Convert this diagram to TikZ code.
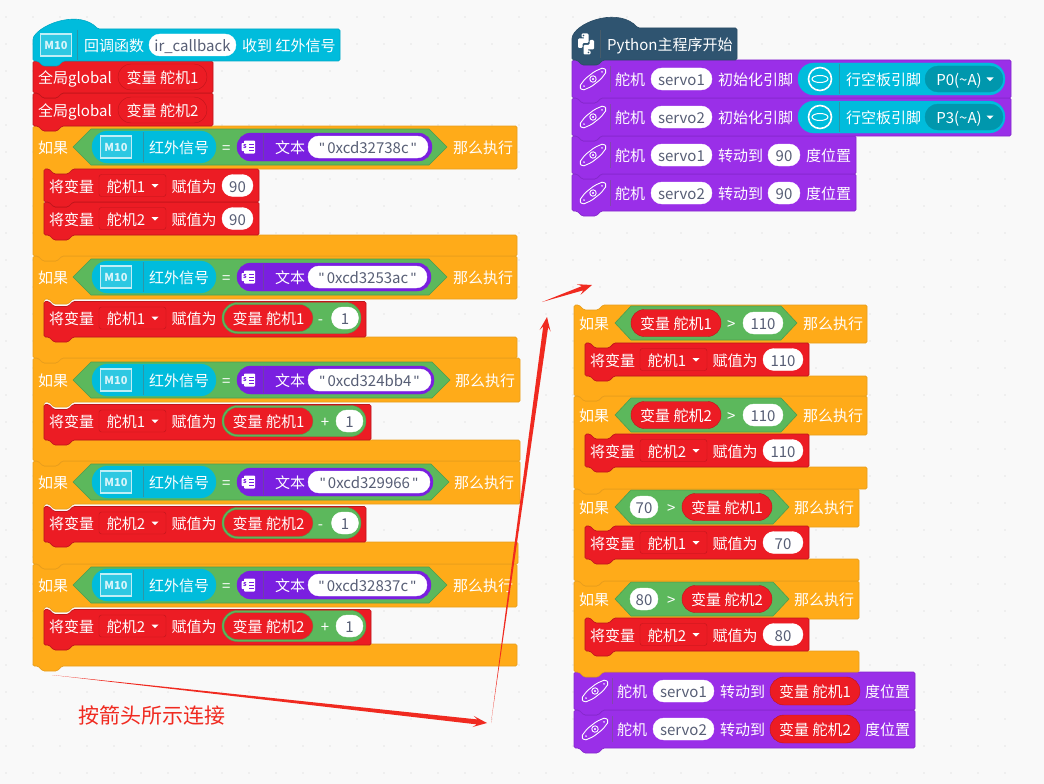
\documentclass[tikz,border=0pt]{standalone}
\usepackage{fontspec}
\setmainfont{Noto Sans CJK SC}
\newfontfamily\qf{Liberation Sans}
\usetikzlibrary{calc,shapes.geometric}
\definecolor{bgc}{HTML}{F9F9F9}
\definecolor{dotc}{HTML}{E6E6E6}
\definecolor{cy}{HTML}{00BCDC}
\definecolor{cyd}{HTML}{0097AD}
\definecolor{rd}{HTML}{EC1C24}
\definecolor{rdd}{HTML}{BE151B}
\definecolor{og}{HTML}{FFAB19}
\definecolor{ogd}{HTML}{E89E1C}
\definecolor{gr}{HTML}{5CB85C}
\definecolor{grd}{HTML}{4E9E4E}
\definecolor{pu}{HTML}{9A2FE8}
\definecolor{pud}{HTML}{8528CC}
\definecolor{pp}{HTML}{7A1FE0}
\definecolor{nv}{HTML}{2F5470}
\definecolor{gt}{HTML}{575E75}
\definecolor{ar}{HTML}{F02A20}
\newcounter{nn}
\tikzset{
  x=1pt,y=-1pt,
  tx/.style={anchor=west,inner sep=0pt,text height=13pt,text depth=0pt,font=\fontsize{15}{18}\selectfont},
  pillbox/.style={rectangle,inner sep=0pt,text height=13pt,text depth=0pt,font=\fontsize{15}{18}\selectfont},
  sep/.style={line width=0.7pt,opacity=0.45,black!60},
  icon/.style={white,line width=0.9pt},
  tail/.style={fill=ar,draw=none}
}
% text
\newcommand\TT[4][white]{\stepcounter{nn}\node[tx,text=#1] (t\thenn) at (#2,#3) {#4};}
% pill: x0 x1 cy h fill draw textcolor text
\newcommand\PL[8]{\stepcounter{nn}\pgfmathsetlengthmacro\rr{(#4)/2-0.1}%
 \node[pillbox,rounded corners=\rr,fill=#5,draw=#6,text=#7,minimum width={(#2)-(#1)},minimum height={#4}] (p\thenn) at ({((#1)+(#2))/2},#3) {#8};}
\newcommand\WP[4]{\PL{#1}{#2}{#3}{22}{white}{white}{gt}{#4}}
% dropdown in an assignment
\newcommand\DD[4]{\stepcounter{nn}\node[pillbox,rounded corners=2.5pt,fill=rd,draw=rdd,text=white,minimum width={(#2)-(#1)},minimum height=22] (d\thenn) at ({((#1)+(#2))/2},#3) {\hspace*{-13pt}#4};}
% stack block
\newcommand\BLK[6]{\draw[fill=#5,draw=#6,line width=0.7pt,rounded corners=1.5pt]
 (#1,#2) -- (#1+5,#2) -- (#1+10,#2+5) -- (#1+24,#2+5) -- (#1+29,#2) -- (#3,#2) -- (#3,#4)
 -- (#1+29,#4) -- (#1+24,#4+5) -- (#1+10,#4+5) -- (#1+5,#4) -- (#1,#4) -- cycle;}
% if block: x0 y0 x1 y1 y2 y3 x1b
\newcommand\IFB[7]{\draw[fill=og,draw=ogd,line width=0.7pt,rounded corners=1.5pt]
 (#1,#2) -- (#1+5,#2) -- (#1+10,#2+5) -- (#1+24,#2+5) -- (#1+29,#2) -- (#3,#2) -- (#3,#4)
 -- (#1+40,#4) -- (#1+35,#4+5) -- (#1+21,#4+5) -- (#1+16,#4) -- (#1+11,#4) -- (#1+11,#5)
 -- (#7,#5) -- (#7,#6) -- (#1+29,#6) -- (#1+24,#6+5) -- (#1+10,#6+5) -- (#1+5,#6) -- (#1,#6) -- cycle;}
\newcommand\HEX[3]{\draw[fill=gr,draw=grd,line width=0.6pt] (#1,#3) -- (#1+18,#3-18) -- (#2-18,#3-18) -- (#2,#3) -- (#2-18,#3+18) -- (#1+18,#3+18) -- cycle;}
\newcommand\HEXS[3]{\draw[fill=gr,draw=grd,line width=0.6pt] (#1,#3) -- (#1+16,#3-17) -- (#2-16,#3-17) -- (#2,#3) -- (#2-16,#3+17) -- (#1+16,#3+17) -- cycle;}
\newcommand\TRI[3][white]{\fill[#1] (#2-3.5,#3-1.5) -- (#2+3.5,#3-1.5) -- (#2,#3+2.2) -- cycle;}
\newcommand\MTEN[2]{\stepcounter{nn}\node[rectangle,draw=white!75!cy,line width=1.4pt,fill=white!18!cy,text=white!85!cy,inner sep=0pt,minimum width=31pt,minimum height=22pt,font=\fontsize{11}{12}\bfseries\selectfont] (m\thenn) at (#1,#2) {M10};}
% s document icon
\newcommand\SDOC[1]{\fill[white,rounded corners=0.8pt] (244,#1-6.5) rectangle (255,#1+6.5);
 \fill[white,rounded corners=0.8pt] (241.5,#1-4) rectangle (248,#1+4);
 \stepcounter{nn}\node[inner sep=0pt,text=pp,font=\fontsize{7}{8}\bfseries\selectfont] (s\thenn) at (244.8,#1-0.4) {s};
 \foreach \q in {-3,0,3}{\draw[pp,line width=0.8pt] (249,#1+\q) -- (254,#1+\q);}
 \draw[sep] (263,#1-13) -- (263,#1+13);}
% condition row on the left stack: cy hexR purR whiteR text thenX
\newcommand\CONDL[6]{\HEX{73}{#2}{#1}
 \PL{92}{216}{#1}{32}{cy}{cy}{white}{}\MTEN{116}{#1}\draw[sep] (143,#1-15) -- (143,#1+15);\TT{149}{#1}{红外信号}
 \TT{222}{#1}{=}
 \PL{237}{#3}{#1}{28}{pp}{pp}{white}{}\SDOC{#1}\TT{275}{#1}{文本}
 \WP{308}{#4}{#1}{{\qf"}\,#5\,{\qf"}}
 \TT{#6}{#1}{那么执行}\TT{38}{#1}{如果}}
% head of an assignment: x0 cy n
\newcommand\ASG[3]{\TT{#1+5}{#2}{将变量}
 \DD{#1+55}{#1+122}{#2}{舵机#3}\TRI{#1+111}{#2}\TT{#1+127.5}{#2}{赋值为}}
% expr assign: x0 x1 cy n op opCentre
\newcommand\EXPR[6]{\BLK{#1}{#3-16.5}{#2}{#3+19}{rd}{rdd}
 \ASG{#1}{#3}{#4}
 \PL{222}{#2-5}{#3}{31}{gr}{grd}{white}{}
 \PL{224}{313}{#3}{27}{rd}{grd}{white}{变量 舵机#4}
 \stepcounter{nn}\node[tx,anchor=center,text=white] (o\thenn) at (#6,#3) {#5};
 \PL{#6+11}{#6+38}{#3}{22}{white}{white}{gt}{1}}
\newcommand\VSIMPLE[5]{\BLK{#1}{#2}{#3}{#2+33}{rd}{rdd}\ASG{#1}{#2+16.5}{#4}}
% horn icon
\newcommand\HORN[2]{\begin{scope}[shift={(#1,#2)},rotate=38]
 \draw[icon,rounded corners=1.8pt] (-15.5,-2.5) -- (-6,-5) -- (6,-5) -- (15.5,-2.5) -- (15.5,2.5) -- (6,5) -- (-6,5) -- (-15.5,2.5) -- cycle;
 \draw[icon] (0,0) circle (3.2pt);
 \fill[white] (0,0) circle (1.1pt);
 \fill[white] (-11.5,0) circle (0.9pt);\fill[white] (11.5,0) circle (0.9pt);
 \end{scope}}
\newcommand\SERVO[3]{\HORN{#1+21}{#2}\draw[sep] (#1+38,#2-13) -- (#1+38,#2+13);\TT{#1+43}{#2}{舵机}\WP{#1+79}{#1+140}{#2}{servo#3}}
% tapered arrow: from-coordinate, to-coordinate, tail half width
\newcommand\TAPER[3]{\fill[tail] (#1) -- ($(#2)!10pt!(#1)!#3!90:(#2)$) -- ($(#2)!14pt!(#1)!5.6pt!90:(#2)$) -- (#2)
 -- ($(#2)!14pt!(#1)!5.6pt!-90:(#2)$) -- ($(#2)!10pt!(#1)!#3!-90:(#2)$) -- cycle;}
\begin{document}
\begin{tikzpicture}
\useasboundingbox (0,0) rectangle (1044,784);
\fill[bgc] (0,0) rectangle (1044,784);
\foreach \i in {0,...,37}{\foreach \j in {0,...,28}{\fill[dotc] (6+27*\i,17+27*\j) circle (0.8pt);}}
% ===== left stack, drawn bottom up =====
\IFB{33}{564}{517}{607}{644}{666}{517}
\CONDL{585}{447}{431}{427}{0xcd32837c}{453}
\EXPR{44}{371}{626}{2}{+}{325}
\IFB{33}{461}{520}{504}{542}{564}{518}
\CONDL{482}{449}{433}{430}{0xcd329966}{454}
\EXPR{44}{366}{523}{2}{-}{320.5}
\IFB{33}{358}{520}{402}{440}{461}{520}
\CONDL{380}{450}{434}{431}{0xcd324bb4}{455}
\EXPR{44}{371}{421}{1}{+}{325}
\IFB{33}{256}{517}{299}{337}{358}{517}
\CONDL{277}{447}{431}{427}{0xcd3253ac}{453}
\EXPR{44}{366}{318}{1}{-}{320.5}
\IFB{33}{126}{517}{169}{235}{256}{517}
\CONDL{147}{447}{432}{428}{0xcd32738c}{453}
\VSIMPLE{44}{202}{259}{2}{}\WP{222}{253}{218.5}{90}
\VSIMPLE{44}{169}{259}{1}{}\WP{222}{253}{185.5}{90}
\BLK{33}{93}{213}{126}{rd}{rdd}
\TT{38}{110}{全局global}\PL{118}{207}{110}{26}{rd}{rdd}{white}{变量 舵机2}
\BLK{33}{61}{213}{93}{rd}{rdd}
\TT{38}{77}{全局global}\PL{118}{207}{77}{26}{rd}{rdd}{white}{变量 舵机1}
% hat
\draw[fill=cy,draw=cy!90!black,line width=0.6pt,rounded corners=1.5pt] (33,61) -- (33,38) .. controls (42,23) and (80,10) .. (98,29) -- (340,29) -- (340,61) -- (63,61) -- (58,66) -- (43,66) -- (38,61) -- cycle;
\MTEN{56}{45}\draw[sep] (77,30) -- (77,60);
\TT{84}{45}{回调函数}\WP{149}{236}{45}{ir\_callback}\TT{242}{45}{收到 红外信号}
% ===== top right stack =====
\BLK{572}{174}{856}{211}{pu}{pud}\SERVO{572}{193}{2}\TT{718}{193}{转动到}\WP{768}{800}{193}{90}\TT{806}{193}{度位置}
\BLK{572}{136}{856}{174}{pu}{pud}\SERVO{572}{155}{1}\TT{718}{155}{转动到}\WP{768}{800}{155}{90}\TT{806}{155}{度位置}
\BLK{572}{98}{1011}{136}{pu}{pud}\SERVO{572}{117}{2}\TT{718}{117}{初始化引脚}
\PL{798}{1005}{117}{32}{cy}{cy}{white}{}\draw[white,line width=1.6pt] (820,117) circle (11.5pt);\draw[white,line width=1pt] (820,117) ellipse [x radius=8pt,y radius=3.5pt];\draw[sep] (839,102) -- (839,132);\TT{846}{117}{行空板引脚}
\PL{925}{1003}{117}{26}{cyd}{cyd}{white}{\hspace*{-10pt}P3(\textasciitilde A)}\TRI{990}{117}
\BLK{572}{60}{1011}{98}{pu}{pud}\SERVO{572}{79}{1}\TT{718}{79}{初始化引脚}
\PL{798}{1005}{79}{32}{cy}{cy}{white}{}\draw[white,line width=1.6pt] (820,79) circle (11.5pt);\draw[white,line width=1pt] (820,79) ellipse [x radius=8pt,y radius=3.5pt];\draw[sep] (839,64) -- (839,94);\TT{846}{79}{行空板引脚}
\PL{925}{1003}{79}{26}{cyd}{cyd}{white}{\hspace*{-10pt}P0(\textasciitilde A)}\TRI{990}{79}
\draw[fill=nv,draw=nv!90!black,line width=0.6pt,rounded corners=1.5pt] (572,60) -- (572,37) .. controls (580,20) and (620,8) .. (638,28) -- (737,28) -- (737,60) -- (603,60) -- (598,65) -- (582,65) -- (577,60) -- cycle;
% python logo
\fill[white,rounded corners=1.2pt] (581.5,33.5) -- (588.5,33.5) -- (588.5,43) -- (582.5,43) -- (582.5,48) -- (578,48) -- (578,38.5) -- (585,38.5) -- (585,37.5) -- (581.5,37.5) -- cycle;
\fill[white,rounded corners=1.2pt] (590.5,54.5) -- (583.5,54.5) -- (583.5,45) -- (589.5,45) -- (589.5,40) -- (594,40) -- (594,49.5) -- (587,49.5) -- (587,50.5) -- (590.5,50.5) -- cycle;
\fill[nv] (583.5,35.5) circle (0.8pt);\fill[nv] (588.5,52.5) circle (0.8pt);
\draw[sep] (600,30) -- (600,58);
\TT{607}{44}{Python主程序开始}
% ===== lower right stack =====
\BLK{574}{710}{915}{748}{pu}{pud}\SERVO{574}{729}{2}\TT{720}{729}{转动到}\PL{770}{860}{729}{28}{rd}{rdd}{white}{变量 舵机2}\TT{865}{729}{度位置}
\BLK{574}{672}{915}{710}{pu}{pud}\SERVO{574}{691}{1}\TT{720}{691}{转动到}\PL{770}{860}{691}{28}{rd}{rdd}{white}{变量 舵机1}\TT{865}{691}{度位置}
% if d
\IFB{574}{581}{859}{619}{651}{672}{859}
\HEXS{615}{789}{599}\WP{630}{658}{599}{80}\TT{667}{599}{>}\PL{682}{772}{599}{27}{rd}{rdd}{white}{变量 舵机2}\TT{579}{599}{如果}\TT{794}{599}{那么执行}
\VSIMPLE{585}{618}{809}{2}{}\WP{763}{803}{634.5}{80}
% if c
\IFB{574}{489}{859}{527}{559}{581}{859}
\HEXS{615}{789}{507}\WP{630}{658}{507}{70}\TT{667}{507}{>}\PL{682}{772}{507}{27}{rd}{rdd}{white}{变量 舵机1}\TT{579}{507}{如果}\TT{794}{507}{那么执行}
\VSIMPLE{585}{526}{809}{1}{}\WP{763}{803}{542.5}{70}
% if b
\IFB{574}{396}{867}{435}{467}{489}{867}
\HEXS{615}{797}{415}\PL{631}{721}{415}{27}{rd}{rdd}{white}{变量 舵机2}\TT{727}{415}{>}\WP{743}{783}{415}{110}\TT{579}{415}{如果}\TT{803}{415}{那么执行}
\VSIMPLE{585}{434}{809}{2}{}\WP{763}{803}{450.5}{110}
% if a
\IFB{574}{305}{867}{343}{376}{396}{867}
\HEXS{615}{797}{323}\PL{631}{721}{323}{27}{rd}{rdd}{white}{变量 舵机1}\TT{727}{323}{>}\WP{743}{783}{323}{110}\TT{579}{323}{如果}\TT{803}{323}{那么执行}
\VSIMPLE{585}{343}{809}{1}{}\WP{763}{803}{359.5}{110}
% ===== annotation =====
\coordinate (a1s) at (52,675);\coordinate (a1e) at (487,723);
\coordinate (a2s) at (491,723);\coordinate (a2e) at (547,317);
\coordinate (a3s) at (542,302);\coordinate (a3e) at (592,285);
\TAPER{a1s}{a1e}{2.5pt}
\TAPER{a2s}{a2e}{2.5pt}
\TAPER{a3s}{a3e}{2.2pt}
\node[tx,text=ar,font=\fontsize{21}{24}\selectfont,text height=16pt,text depth=0.8pt] (note) at (78,716) {按箭头所示连接};
\end{tikzpicture}
\end{document}
